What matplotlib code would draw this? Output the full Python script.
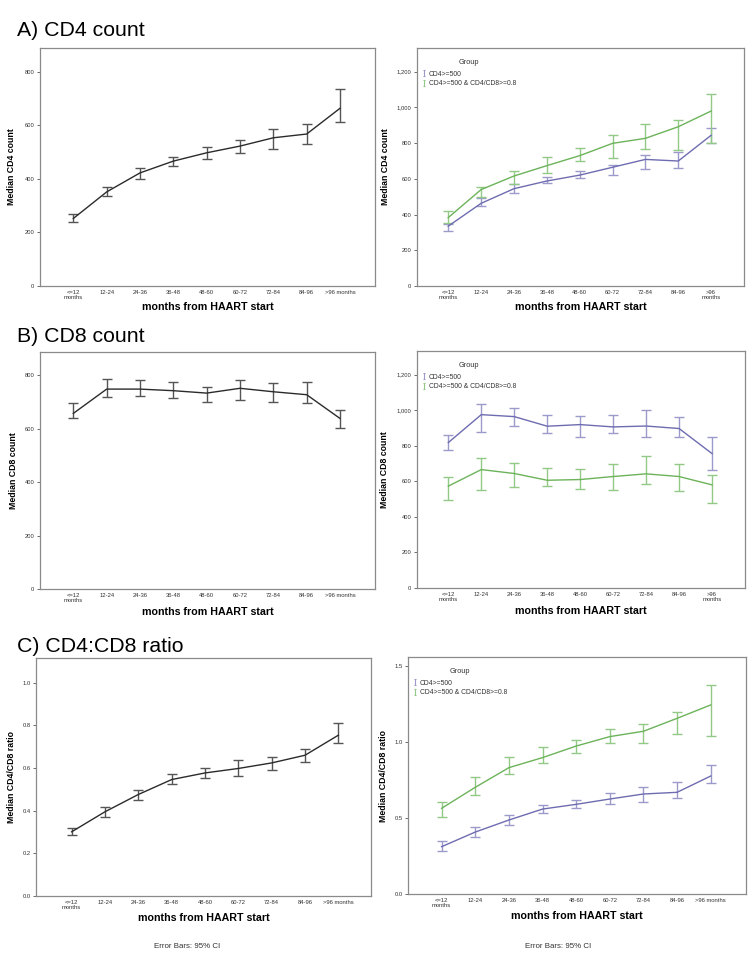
import numpy as np
import matplotlib
matplotlib.use("Agg")
import matplotlib.pyplot as plt
from matplotlib.lines import Line2D
from matplotlib.path import Path
from matplotlib.ticker import FuncFormatter

plt.rcParams['font.family'] = ['Liberation Sans', 'DejaVu Sans']

periods = ['<=12\nmonths', '12-24', '24-36', '36-48', '48-60', '60-72', '72-84', '84-96', '>96 months']
periods_wrap = ['<=12\nmonths', '12-24', '24-36', '36-48', '48-60', '60-72', '72-84', '84-96', '>96\nmonths']

# A) CD4 count, all patients
cd4_all = [252, 351, 422, 466, 497, 522, 553, 567, 663]
cd4_all_lo = [237, 336, 401, 449, 475, 497, 512, 531, 613]
cd4_all_hi = [268, 370, 441, 480, 518, 543, 584, 606, 736]

# A) CD4 count by group
cd4_g1 = [335, 463, 545, 588, 621, 665, 709, 700, 844]
cd4_g1_lo = [310, 448, 519, 577, 603, 623, 657, 662, 799]
cd4_g1_hi = [345, 494, 570, 612, 646, 680, 735, 749, 886]
cd4_g2 = [383, 540, 616, 674, 730, 799, 827, 892, 980]
cd4_g2_lo = [355, 500, 573, 633, 698, 715, 769, 763, 799]
cd4_g2_hi = [421, 553, 642, 724, 775, 847, 905, 928, 1077]

# B) CD8 count, all patients
cd8_all = [658, 749, 749, 743, 734, 752, 739, 728, 639]
cd8_all_lo = [639, 718, 725, 715, 702, 708, 702, 698, 605]
cd8_all_hi = [698, 785, 783, 775, 758, 782, 770, 774, 672]

# B) CD8 count by group
cd8_g1 = [818, 975, 964, 910, 919, 906, 911, 897, 756]
cd8_g1_lo = [775, 880, 913, 874, 848, 874, 848, 848, 666]
cd8_g1_hi = [859, 1033, 1015, 973, 970, 975, 999, 964, 850]
cd8_g2 = [573, 666, 644, 606, 610, 627, 642, 627, 580]
cd8_g2_lo = [494, 554, 567, 571, 556, 552, 584, 546, 476]
cd8_g2_hi = [623, 732, 704, 676, 670, 696, 743, 700, 633]

# C) CD4/CD8 ratio, all patients
ratio_all = [0.301, 0.395, 0.476, 0.546, 0.577, 0.598, 0.624, 0.660, 0.754]
ratio_all_lo = [0.284, 0.371, 0.448, 0.523, 0.551, 0.565, 0.591, 0.629, 0.719]
ratio_all_hi = [0.317, 0.418, 0.499, 0.573, 0.602, 0.637, 0.654, 0.691, 0.811]

# C) CD4/CD8 ratio by group
ratio_g1 = [0.311, 0.407, 0.486, 0.558, 0.589, 0.624, 0.657, 0.668, 0.775]
ratio_g1_lo = [0.283, 0.377, 0.451, 0.532, 0.565, 0.589, 0.602, 0.629, 0.727]
ratio_g1_hi = [0.350, 0.438, 0.521, 0.587, 0.620, 0.661, 0.701, 0.736, 0.850]
ratio_g2 = [0.563, 0.701, 0.830, 0.896, 0.972, 1.034, 1.069, 1.154, 1.242]
ratio_g2_lo = [0.508, 0.650, 0.788, 0.859, 0.926, 0.992, 0.992, 1.051, 1.036]
ratio_g2_hi = [0.602, 0.767, 0.902, 0.968, 1.014, 1.082, 1.117, 1.198, 1.371]

group_labels = ['CD4>=500', 'CD4>=500 & CD4/CD8>=0.8']

purple, purple_e = '#6e6cb0', '#9c9acb'
green, green_e = '#6cb35a', '#93c987'
black, black_e = '#2b2b2b', '#555555'

# small "I" shaped error-bar symbol for the legend
ibar = Path([(-0.45, 1), (0.45, 1), (0, 1), (0, -1), (-0.45, -1), (0.45, -1)],
            [Path.MOVETO, Path.LINETO, Path.MOVETO, Path.LINETO, Path.MOVETO, Path.LINETO])

W, H = 750, 965
fig = plt.figure(figsize=(7.5, 9.65), dpi=100)


def box(x0, y0, x1, y1):
    return [x0 / W, 1 - y1 / H, (x1 - x0) / W, (y1 - y0) / H]


def draw(ax, y, lo, hi, lc, ec):
    x = np.arange(len(y))
    y = np.array(y)
    err = [y - np.array(lo), np.array(hi) - y]
    ax.errorbar(x, y, yerr=err, color=lc, ecolor=ec, lw=1.0, elinewidth=1.0,
                capsize=3.5, capthick=1.0)


def style(ax, labels, ylim, yticks, ylabel, xlim, comma=False, decimals=None,
          ylab_x=-0.085, xlab_y=-0.09):
    ax.set_xlim(*xlim)
    ax.set_ylim(*ylim)
    ax.set_xticks(np.arange(len(labels)))
    ax.set_xticklabels(labels, fontsize=4.2, color='#333333', linespacing=0.9)
    ax.tick_params(axis='x', length=0, pad=3)
    ax.set_yticks(yticks)
    if comma:
        ax.yaxis.set_major_formatter(FuncFormatter(lambda v, p: f'{v:,.0f}'))
    elif decimals is not None:
        ax.yaxis.set_major_formatter(FuncFormatter(lambda v, p: f'{v:.{decimals}f}'))
    ax.tick_params(axis='y', length=2.5, width=0.6, labelsize=4.2, colors='#555555',
                   labelcolor='#333333', pad=1.5)
    for s in ax.spines.values():
        s.set_color('#8a8a8a')
        s.set_linewidth(0.9)
    ax.set_xlabel('months from HAART start', fontsize=7.7, fontweight='bold', va='center')
    ax.xaxis.set_label_coords(0.5, xlab_y)
    ax.set_ylabel('Median ' + ylabel, fontsize=6.3, fontweight='bold', va='center')
    ax.yaxis.set_label_coords(ylab_x, 0.5)


def legend(ax):
    handles = [Line2D([], [], color=purple_e, marker=ibar, linestyle='None',
                      markersize=4.5, markeredgewidth=0.8, markerfacecolor='none'),
               Line2D([], [], color=green_e, marker=ibar, linestyle='None',
                      markersize=4.5, markeredgewidth=0.8, markerfacecolor='none')]
    leg = ax.legend(handles, group_labels, title='Group', loc='upper left', frameon=False,
                    fontsize=4.9, title_fontsize=5.3, handlelength=0.6, handletextpad=0.4,
                    labelspacing=0.35, borderaxespad=0.3, borderpad=0.4,
                    bbox_to_anchor=(0.0, 0.975))
    leg.get_title().set_color('#333333')
    leg._legend_box.sep = 3.5
    for t in leg.get_texts():
        t.set_color('#333333')


# row A
ax = fig.add_axes(box(40, 48, 375, 286))
draw(ax, cd4_all, cd4_all_lo, cd4_all_hi, black, black_e)
style(ax, periods, (0, 888), [0, 200, 400, 600, 800], 'CD4 count', (-1.0, 9.05),
      ylab_x=-0.084, xlab_y=-0.088)

ax = fig.add_axes(box(417, 48, 744, 286))
draw(ax, cd4_g1, cd4_g1_lo, cd4_g1_hi, purple, purple_e)
draw(ax, cd4_g2, cd4_g2_lo, cd4_g2_hi, green, green_e)
style(ax, periods_wrap, (0, 1333), [0, 200, 400, 600, 800, 1000, 1200], 'CD4 count',
      (-0.95, 9.0), comma=True, ylab_x=-0.097, xlab_y=-0.088)
legend(ax)

# row B
ax = fig.add_axes(box(40, 352, 375, 589))
draw(ax, cd8_all, cd8_all_lo, cd8_all_hi, black, black_e)
style(ax, periods, (0, 888), [0, 200, 400, 600, 800], 'CD8 count', (-1.0, 9.05),
      ylab_x=-0.08, xlab_y=-0.097)

ax = fig.add_axes(box(417, 351, 745, 588))
draw(ax, cd8_g1, cd8_g1_lo, cd8_g1_hi, purple, purple_e)
draw(ax, cd8_g2, cd8_g2_lo, cd8_g2_hi, green, green_e)
style(ax, periods_wrap, (0, 1333), [0, 200, 400, 600, 800, 1000, 1200], 'CD8 count',
      (-0.95, 9.0), comma=True, ylab_x=-0.099, xlab_y=-0.097)
legend(ax)

# row C
ax = fig.add_axes(box(36, 658, 371, 896))
draw(ax, ratio_all, ratio_all_lo, ratio_all_hi, black, black_e)
style(ax, periods, (0, 1.116), [0, 0.2, 0.4, 0.6, 0.8, 1.0], 'CD4/CD8 ratio',
      (-1.07, 8.98), decimals=1, ylab_x=-0.0725, xlab_y=-0.092)

ax = fig.add_axes(box(408, 657, 746, 894))
draw(ax, ratio_g1, ratio_g1_lo, ratio_g1_hi, purple, purple_e)
draw(ax, ratio_g2, ratio_g2_lo, ratio_g2_hi, green, green_e)
style(ax, periods, (0, 1.557), [0, 0.5, 1.0, 1.5], 'CD4/CD8 ratio',
      (-1.0, 9.05), decimals=1, ylab_x=-0.073, xlab_y=-0.092)
legend(ax)

# panel titles
fig.text(17 / W, 1 - 31 / H, 'A) CD4 count', fontsize=15.3, va='center', ha='left')
fig.text(17 / W, 1 - 336 / H, 'B) CD8 count', fontsize=15.3, va='center', ha='left')
fig.text(17 / W, 1 - 646 / H, 'C) CD4:CD8 ratio', fontsize=15.3, va='center', ha='left')

fig.text(187 / W, 1 - 947 / H, 'Error Bars: 95% CI', fontsize=5.7, color='#333333',
         ha='center', va='center')
fig.text(558 / W, 1 - 947 / H, 'Error Bars: 95% CI', fontsize=5.7, color='#333333',
         ha='center', va='center')

fig.savefig('out.png', dpi=100)
